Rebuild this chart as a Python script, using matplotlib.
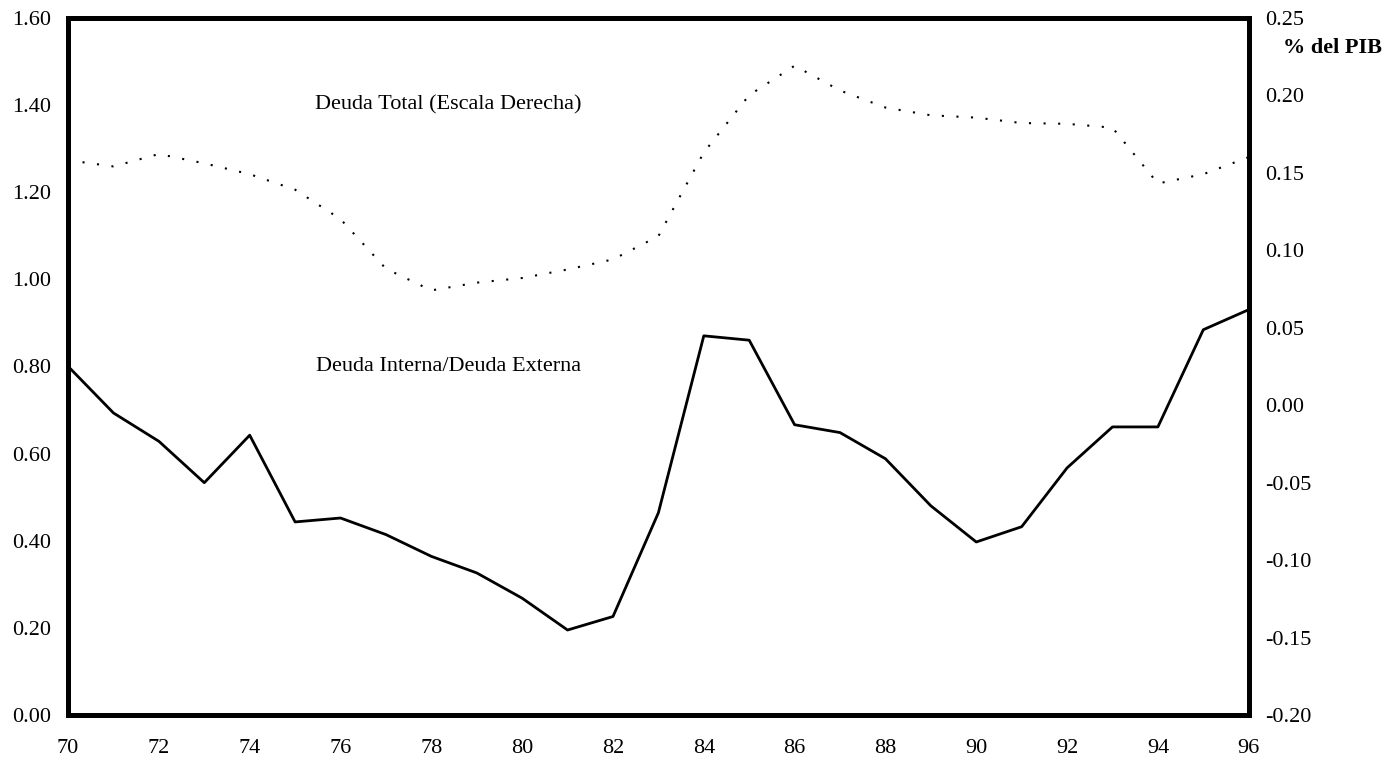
import numpy as np
import matplotlib.pyplot as plt

plt.rcParams['font.family'] = ['Liberation Serif', 'DejaVu Serif']

# data
years = list(range(70, 97))
ratio_int_ext = [0.80, 0.693, 0.628, 0.533, 0.642, 0.443, 0.452, 0.414, 0.364, 0.326,
                 0.268, 0.195, 0.226, 0.464, 0.870, 0.860, 0.666, 0.648, 0.588, 0.480,
                 0.397, 0.432, 0.567, 0.661, 0.661, 0.884, 0.930]
deuda_total = [0.158, 0.154, 0.162, 0.156, 0.149, 0.139, 0.120, 0.088, 0.074, 0.079,
               0.082, 0.0875, 0.094, 0.109, 0.163, 0.200, 0.219, 0.203, 0.192, 0.187,
               0.1855, 0.182, 0.1815, 0.179, 0.143, 0.149, 0.160]

left_ticks = [0.0, 0.2, 0.4, 0.6, 0.8, 1.0, 1.2, 1.4, 1.6]
right_ticks = [-0.20, -0.15, -0.10, -0.05, 0.0, 0.05, 0.10, 0.15, 0.20, 0.25]
x_ticks = list(range(70, 97, 2))

fig = plt.figure(figsize=(13.89, 7.68), dpi=100)
ax = fig.add_axes([0.049, 0.069, 0.850, 0.908])
ax.plot(years, ratio_int_ext, color='black', linewidth=2)
ax.set_xlim(70, 96)
ax.set_ylim(0, 1.6)
ax.set_yticks(left_ticks)
ax.set_yticklabels(['%.2f' % v for v in left_ticks])
ax.set_xticks(x_ticks)
ax.tick_params(axis='y', length=0, labelsize=16, pad=12)
ax.tick_params(axis='x', length=0, labelsize=16, pad=17)
for s in ax.spines.values():
    s.set_linewidth(3.5)

ax2 = ax.twinx()
ax2.plot(years, deuda_total, color='black', linewidth=1.5, linestyle=(0, (1, 6)))
ax2.set_ylim(-0.20, 0.25)
ax2.set_yticks(right_ticks)
ax2.set_yticklabels(['%.2f' % v for v in right_ticks])
ax2.tick_params(axis='y', length=0, labelsize=16, pad=12)
for s in ax2.spines.values():
    s.set_linewidth(3.5)

ax.text(78.37, 1.40, 'Deuda Total (Escala Derecha)', fontsize=16, ha='center', va='center')
ax.text(78.37, 0.80, 'Deuda Interna/Deuda Externa', fontsize=16, ha='center', va='center')
fig.text(0.959, 0.938, '% del PIB', fontsize=16, fontweight='bold', ha='center', va='center')

fig.savefig('out.png', dpi=100)
